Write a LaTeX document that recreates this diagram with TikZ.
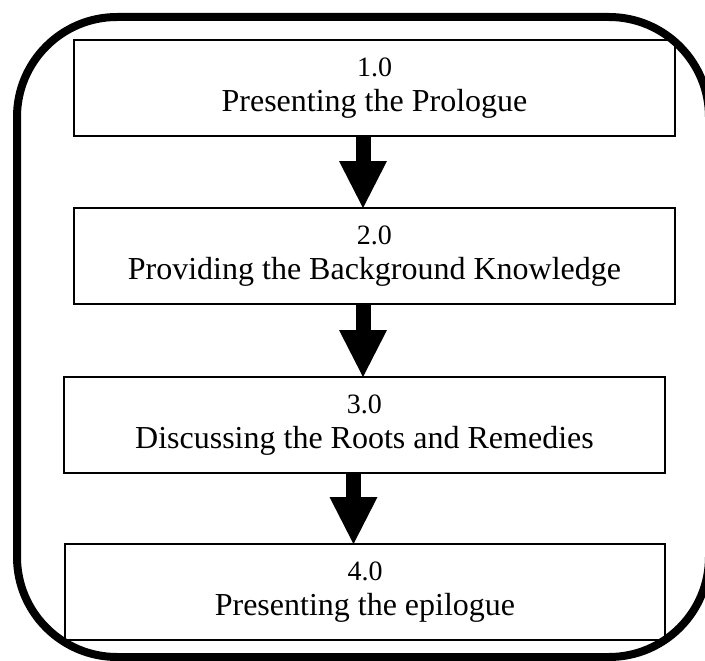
\documentclass[tikz,border=0pt]{standalone}
\usepackage{fontspec}
\setmainfont{Liberation Serif}
\usetikzlibrary{arrows.meta}
\tikzset{
  stagebox/.style={draw, line width=2pt, rectangle, minimum width=601pt, minimum height=96pt,
    inner sep=0pt, outer sep=0pt, align=center, font=\fontsize{32}{35}\selectfont},
  flowarrow/.style={line width=15pt, -{Triangle[width=48pt,length=47pt,line width=0pt]}},
  frame/.style={line width=8pt, rounded corners=100pt}
}
\newcommand{\stagenum}[1]{{\fontsize{28}{35}\selectfont #1}}
\begin{document}
\begin{tikzpicture}[x=1pt,y=-1pt]
\useasboundingbox (0,0) rectangle (705,661);
\clip (0,0) rectangle (705,661);
\draw[frame] (17,17) rectangle (709,657);
\node[stagebox] (b1) at (374.5,88) {\stagenum{1.0}\\Presenting the Prologue};
\node[stagebox] (b2) at (374.5,256) {\stagenum{2.0}\\Providing the Background Knowledge};
\node[stagebox] (b3) at (364.5,425) {\stagenum{3.0}\\Discussing the Roots and Remedies};
\node[stagebox, minimum width=600pt] (b4) at (365,592) {\stagenum{4.0}\\Presenting the epilogue};
\draw[flowarrow] ([xshift=-11.5pt]b1.south) -- ([xshift=-11.5pt]b1.south |- b2.north);
\draw[flowarrow] ([xshift=-11.5pt]b2.south) -- ([xshift=-11.5pt]b2.south |- b3.north);
\draw[flowarrow] ([xshift=-11pt]b3.south) -- ([xshift=-11pt]b3.south |- b4.north);
\end{tikzpicture}
\end{document}
